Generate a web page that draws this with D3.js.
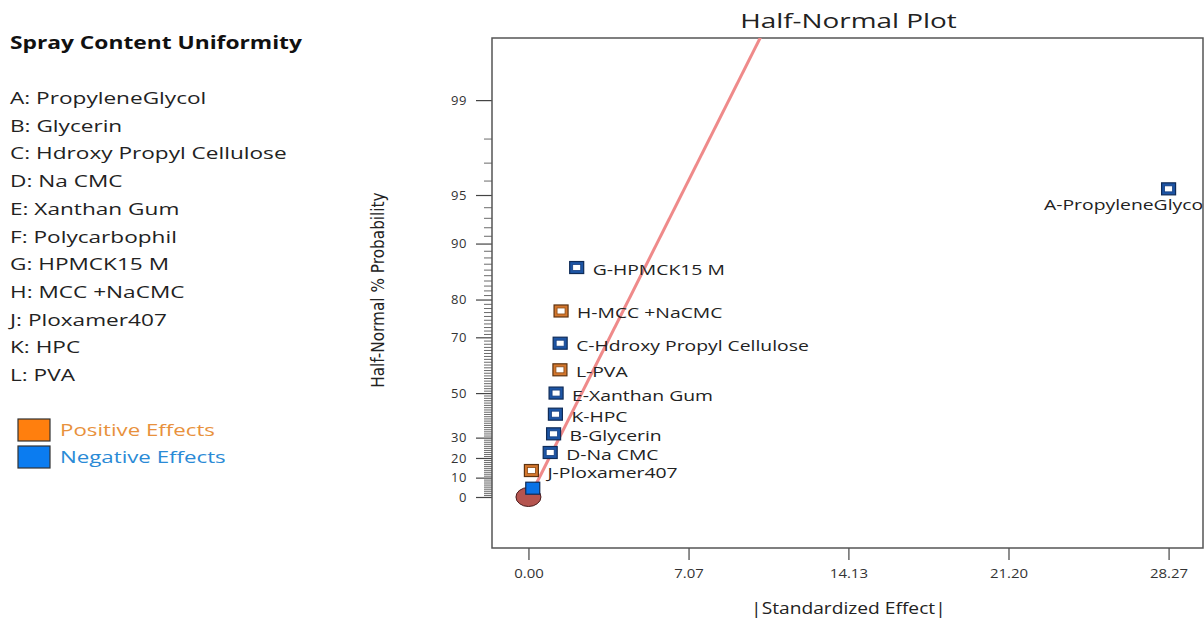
<!DOCTYPE html>
<html>
<head>
<meta charset="utf-8">
<script src="https://cdn.jsdelivr.net/npm/d3@7/dist/d3.min.js"></script>
<style>
  body { margin: 0; background: #fff; }
  svg { display: block; font-family: "Open Sans", "Noto Sans", sans-serif; }
</style>
</head>
<body>
<div id="chart"></div>
<script>
// data
const terms = ["A", "B", "C", "D", "E", "F", "G", "H", "J", "K", "L"];
const termNames = ["PropyleneGlycol", "Glycerin", "Hdroxy Propyl Cellulose", "Na CMC", "Xanthan Gum",
  "Polycarbophil", "HPMCK15 M", "MCC +NaCMC", "Ploxamer407", "HPC", "PVA"];
const effects = [28.27, 1.11, 1.40, 0.96, 1.22, 0.19, 2.13, 1.44, 0.13, 1.19, 1.39];
const probs = [95.45, 31.82, 68.18, 22.73, 50.0, 4.55, 86.36, 77.27, 13.64, 40.91, 59.09];
const positive = [false, false, false, false, false, false, false, true, true, false, true];
const selected = [true, true, true, true, true, false, true, true, true, true, true];

const xTicks = [0.00, 7.07, 14.13, 21.20, 28.27];
const yTicks = [0, 10, 20, 30, 50, 70, 80, 90, 95, 99];

// fitted line (effect vs half-normal % probability) end points
const fitEffect = [0.05, 10.9];
const fitProb = [0, 99.85];

// inverse of standard normal cdf (Acklam)
function qnorm(p) {
  const a = [-39.69683028665376, 220.9460984245205, -275.9285104469687, 138.3577518672690, -30.66479806614716, 2.506628277459239];
  const b = [-54.47609879822406, 161.5858368580409, -155.6989798598866, 66.80131188771972, -13.28068155288572];
  const c = [-0.007784894002430293, -0.3223964580411365, -2.400758277161838, -2.549732539343734, 4.374664141464968, 2.938163982698783];
  const d = [0.007784695709041462, 0.3224671290700398, 2.445134137142996, 3.754408661907416];
  const pl = 0.02425;
  let q, r;
  if (p < pl) {
    q = Math.sqrt(-2 * Math.log(p));
    return (((((c[0] * q + c[1]) * q + c[2]) * q + c[3]) * q + c[4]) * q + c[5]) / ((((d[0] * q + d[1]) * q + d[2]) * q + d[3]) * q + 1);
  }
  if (p > 1 - pl) {
    q = Math.sqrt(-2 * Math.log(1 - p));
    return -(((((c[0] * q + c[1]) * q + c[2]) * q + c[3]) * q + c[4]) * q + c[5]) / ((((d[0] * q + d[1]) * q + d[2]) * q + d[3]) * q + 1);
  }
  q = p - 0.5; r = q * q;
  return (((((a[0] * r + a[1]) * r + a[2]) * r + a[3]) * r + a[4]) * r + a[5]) * q / (((((b[0] * r + b[1]) * r + b[2]) * r + b[3]) * r + b[4]) * r + 1);
}
// half normal % probability -> quantile
const hn = pct => pct <= 0 ? 0 : qnorm(0.5 + pct / 200);

// the original text is drawn wide, so stretch text horizontally round its anchor
function stretch(sel, sx) {
  sel.each(function () {
    const t = d3.select(this);
    const xx = +t.attr("x") || 0, yy = +t.attr("y") || 0;
    t.attr("x", 0).attr("y", 0)
      .attr("transform", "translate(" + xx + "," + yy + ") scale(" + sx + ",1)");
  });
}

const W = 1204, H = 622;
const margin = { top: 38, right: 1, bottom: 74, left: 492 };
const width = W - margin.left - margin.right,
  height = H - margin.top - margin.bottom;

const svg = d3.select("#chart").append("svg")
  .attr("width", W).attr("height", H);

// legend block on the left
svg.append("text")
  .attr("x", 10).attr("y", 49)
  .style("font-size", "17px").style("font-weight", "bold").style("fill", "#111")
  .text("Spray Content Uniformity")
  .call(stretch, 1.34);

svg.append("g").selectAll("text")
  .data(terms)
  .enter().append("text")
  .attr("x", 10)
  .attr("y", (d, i) => 104 + i * 27.7)
  .style("font-size", "17px").style("fill", "#222")
  .text((d, i) => d + ": " + termNames[i])
  .call(stretch, 1.33);

const keys = [["Positive Effects", "#ff7f0e", "#e8913c"], ["Negative Effects", "#0b7cf0", "#2a8ad6"]];
keys.forEach((k, i) => {
  svg.append("rect")
    .attr("x", 18).attr("y", 419 + i * 27).attr("width", 32).attr("height", 22)
    .attr("fill", k[1]).attr("stroke", "#333").attr("stroke-width", 1.2);
  svg.append("text")
    .attr("x", 60).attr("y", 436 + i * 27)
    .style("font-size", "17px").style("fill", k[2])
    .text(k[0])
    .call(stretch, 1.31);
});

const g = svg.append("g")
  .attr("transform", "translate(" + margin.left + "," + margin.top + ")");

// scales
const x = d3.scaleLinear().domain([-1.61, 29.79]).range([0, width]);
const y = d3.scaleLinear().domain([-0.331, 2.979]).range([height, 0]);

// clip
g.append("clipPath").attr("id", "clip")
  .append("rect").attr("width", width).attr("height", height);

// axes
const minor = d3.range(1, 99).filter(v => yTicks.indexOf(v) < 0);
g.append("g")
  .call(d3.axisLeft(y).tickValues(minor.map(hn)).tickSize(8).tickFormat(""))
  .call(a => a.select(".domain").remove())
  .call(a => a.selectAll("line").attr("stroke", "#444").attr("stroke-width", 0.8));

g.append("g")
  .call(d3.axisLeft(y).tickValues(yTicks.map(hn)).tickSize(16).tickPadding(9)
    .tickFormat((d, i) => yTicks[i]))
  .call(a => a.select(".domain").remove())
  .call(a => a.selectAll("line").attr("stroke", "#444").attr("stroke-width", 1.2))
  .call(a => a.selectAll("text").style("font-size", "13px").style("fill", "#333")
    .style("font-family", "'Open Sans', sans-serif").style("letter-spacing", "0.6px"));

g.append("g")
  .attr("transform", "translate(0," + height + ")")
  .call(d3.axisBottom(x).tickValues(xTicks).tickSize(12).tickPadding(9)
    .tickFormat(d3.format(".2f")))
  .call(a => a.select(".domain").remove())
  .call(a => a.selectAll("line").attr("stroke", "#444").attr("stroke-width", 1.2))
  .call(a => a.selectAll("text").style("font-size", "13px").style("fill", "#333")
    .style("font-family", "'Open Sans', sans-serif").attr("transform", "scale(1.15,1)"));

// frame
g.append("rect")
  .attr("width", width).attr("height", height)
  .attr("fill", "none").attr("stroke", "#555").attr("stroke-width", 1.5);

const plot = g.append("g").attr("clip-path", "url(#clip)");

// fitted line
plot.append("path")
  .datum(d3.zip(fitEffect, fitProb))
  .attr("fill", "none")
  .attr("stroke", "#ef8a8a")
  .attr("stroke-width", 3)
  .attr("d", d3.line().x(d => x(d[0])).y(d => y(hn(d[1]))));

// origin marker
plot.append("ellipse")
  .attr("cx", x(0)).attr("cy", y(0)).attr("rx", 12.5).attr("ry", 9.5)
  .attr("fill", "#b5544f").attr("stroke", "#4a1c1c").attr("stroke-width", 1);

// points
const pts = terms.map((t, i) => ({ t: t, name: termNames[i], e: effects[i], p: probs[i], pos: positive[i], sel: selected[i] }))
  .sort((a, b) => a.p - b.p);

const mark = plot.selectAll(".pt")
  .data(pts)
  .enter().append("g")
  .attr("class", "pt")
  .attr("transform", d => "translate(" + x(d.e) + "," + y(hn(d.p)) + ")");

mark.append("rect")
  .attr("x", -7).attr("y", -6).attr("width", 14).attr("height", 12)
  .attr("fill", d => !d.sel ? "#0b72e6" : (d.pos ? "#d4772d" : "#1d55a5"))
  .attr("stroke", d => d.pos ? "#5e3310" : "#0f2b57")
  .attr("stroke-width", 1.2);

mark.filter(d => d.sel).append("rect")
  .attr("x", -4).attr("y", -3).attr("width", 8).attr("height", 6)
  .attr("fill", "#fff")
  .attr("stroke", d => d.pos ? "#8a4a14" : "#163f80")
  .attr("stroke-width", 0.8);

// labels
const labSx = 1.29;
plot.selectAll(".lab")
  .data(pts.filter(d => d.sel))
  .enter().append("text")
  .attr("class", "lab")
  .style("font-size", "15px").style("fill", "#222")
  .text(d => d.t + "-" + d.name)
  .each(function (d) {
    const tx = x(d.e) + 16, ty = y(hn(d.p)) + 7.5;
    const w = this.getComputedTextLength() * labSx;
    if (tx + w > width) {
      d3.select(this).attr("text-anchor", "end").attr("x", width + 5).attr("y", ty + 14);
    } else {
      d3.select(this).attr("x", tx).attr("y", ty);
    }
  })
  .call(stretch, labSx);

// titles
svg.append("text")
  .attr("x", margin.left + x(14.13)).attr("y", 28)
  .attr("text-anchor", "middle")
  .style("font-size", "20.5px").style("fill", "#222")
  .text("Half-Normal Plot")
  .call(stretch, 1.36);

svg.append("text")
  .attr("x", margin.left + x(14.13)).attr("y", 614)
  .attr("text-anchor", "middle")
  .style("font-size", "17px").style("fill", "#222")
  .text("|Standardized Effect|")
  .call(stretch, 1.13);

svg.append("text")
  .attr("transform", "translate(384," + (margin.top + y(hn(50)) - 103) + ") rotate(-90)")
  .attr("text-anchor", "middle")
  .style("font-size", "17px").style("fill", "#222")
  .style("font-family", "'DejaVu Sans Condensed', 'Liberation Sans Narrow', sans-serif")
  .style("font-stretch", "condensed")
  .text("Half-Normal % Probability");
</script>
</body>
</html>
